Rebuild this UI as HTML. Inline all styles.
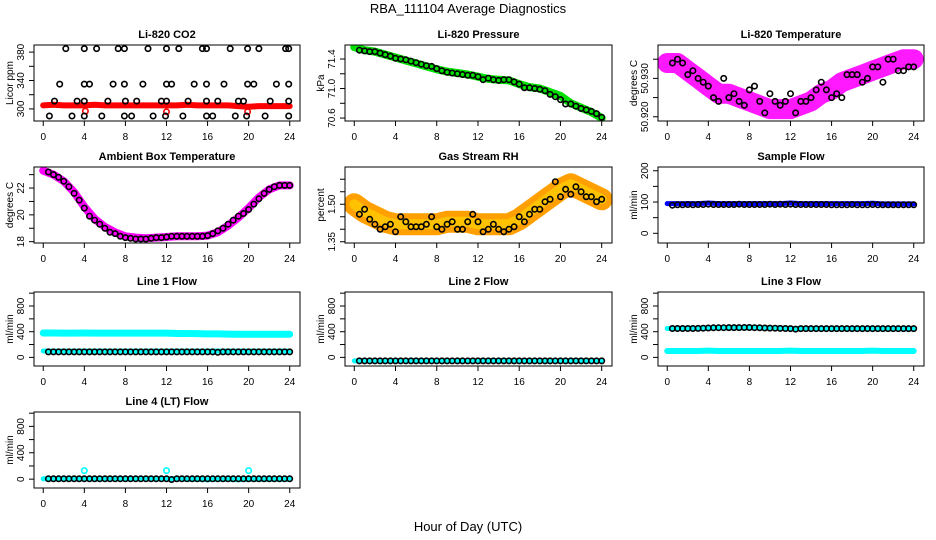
<!DOCTYPE html>
<html><head><meta charset="utf-8">
<style>
html,body{margin:0;padding:0;background:#fff;}
svg{display:block;font-family:"Liberation Sans",Arial,sans-serif;}
</style></head>
<body>
<svg id="chart" width="936" height="540" viewBox="0 0 936 540" xmlns="http://www.w3.org/2000/svg">
<text x="468" y="13" text-anchor="middle" font-size="13">RBA_111104  Average Diagnostics</text>
<text x="468" y="531" text-anchor="middle" font-size="13">Hour of Day (UTC)</text>
</svg>
<script>
// ---- shared hour arrays ----
const bandHours = [0,1,2,3,4,5,6,7,8,9,10,11,12,13,14,15,16,17,18,19,20,21,22,23,24];
const circleHours = [0.5,1,1.5,2,2.5,3,3.5,4,4.5,5,5.5,6,6.5,7,7.5,8,8.5,9,9.5,10,10.5,11,11.5,12,12.5,13,13.5,14,14.5,15,15.5,16,16.5,17,17.5,18,18.5,19,19.5,20,20.5,21,21.5,22,22.5,23,23.5,24];
const xTicks = [0,4,8,12,16,20,24];

// ---- CO2 ----
const co2Band = [305,306,305,305,305,306,305,305,305,305,305,305,305,305,306,305,305,305,305,304,303,304,304,304,304];
const co2CircleHours = [2.2,4,5.2,7.3,7.9,10.2,12,13.2,15.5,15.9,18.2,19.9,21,23.6,23.9,
 1.6,4,4.5,6.8,7.9,9.7,12,12.5,14.7,15.9,17.6,19.9,20.5,22.7,23.9,
 1.1,3.3,4,6.3,8,9.1,11.5,12,14.1,15.9,17,19,19.5,22.1,23.9,
 0.6,2.8,4,5.7,7.9,8.6,10.7,11.9,13.6,15.9,16.5,18.7,19.8,21.6,23.9];
const co2CircleVals = [385,385,385,385,385,385,385,385,385,385,385,385,385,385,385,
 335,335,335,335,335,335,335,335,335,335,335,335,335,335,335,
 311,311,311,311,311,311,311,311,311,311,311,311,311,311,311,
 290,290,290,290,290,290,290,290,290,290,290,290,290,290,290];
const co2OutlierHours = [4.1,12,19.9];
const co2OutlierVals = [297,296,296];

// ---- Pressure ----
const presBand = [71.56,71.52,71.50,71.46,71.42,71.38,71.34,71.30,71.26,71.23,71.21,71.19,71.16,71.13,71.12,71.11,71.06,71.02,71.00,70.95,70.90,70.80,70.74,70.68,70.60];
const presCircles = [71.52,71.51,71.50,71.50,71.48,71.46,71.44,71.41,71.40,71.39,71.37,71.35,71.33,71.31,71.30,71.27,71.24,71.22,71.21,71.20,71.19,71.18,71.18,71.16,71.12,71.14,71.12,71.11,71.12,71.12,71.09,71.06,71.01,71.01,71.00,70.99,70.97,70.92,70.89,70.85,70.79,70.79,70.76,70.73,70.71,70.69,70.66,70.61];

// ---- Li-820 temperature ----
const ltBand = [50.934,50.934,50.932,50.930,50.928,50.926,50.926,50.925,50.924,50.923,50.922,50.922,50.922,50.923,50.924,50.926,50.927,50.929,50.930,50.931,50.932,50.933,50.934,50.935,50.935];
const ltCircles = [50.934,50.935,50.934,50.931,50.932,50.930,50.929,50.928,50.925,50.924,50.930,50.925,50.926,50.924,50.923,50.927,50.928,50.924,50.921,50.926,50.924,50.923,50.924,50.926,50.921,50.924,50.924,50.925,50.927,50.929,50.927,50.925,50.926,50.925,50.931,50.931,50.931,50.929,50.930,50.933,50.933,50.929,50.935,50.935,50.932,50.932,50.933,50.933];

// ---- Ambient box temperature ----
const ambBand = [23.3,23.0,22.5,21.7,20.6,19.7,19.1,18.7,18.4,18.3,18.25,18.3,18.35,18.4,18.4,18.4,18.45,18.7,19.2,19.8,20.5,21.3,21.9,22.2,22.2];
const ambCircles = [23.2,23.0,22.8,22.5,22.1,21.6,21.1,20.5,19.9,19.6,19.3,19.0,18.7,18.6,18.4,18.3,18.25,18.2,18.2,18.2,18.25,18.3,18.3,18.35,18.4,18.4,18.4,18.4,18.4,18.4,18.4,18.45,18.6,18.8,19.0,19.3,19.6,19.9,20.1,20.4,20.8,21.2,21.6,21.9,22.1,22.2,22.2,22.2];

// ---- Gas stream RH ----
const rhBand = [1.50,1.47,1.45,1.43,1.42,1.42,1.42,1.42,1.42,1.43,1.43,1.43,1.42,1.42,1.42,1.42,1.44,1.47,1.50,1.53,1.56,1.58,1.56,1.54,1.52];
const rhCircles = [1.46,1.48,1.44,1.42,1.40,1.41,1.42,1.39,1.45,1.43,1.41,1.41,1.41,1.42,1.45,1.41,1.40,1.42,1.43,1.40,1.40,1.43,1.46,1.43,1.39,1.40,1.42,1.40,1.39,1.40,1.41,1.45,1.43,1.46,1.48,1.48,1.51,1.52,1.59,1.53,1.56,1.54,1.57,1.55,1.53,1.53,1.51,1.52];

// ---- Sample flow ----
const sfBand = [95,95,95,95,97,95,95,95,95,95,95,95,97,95,95,95,95,95,95,95,96,94,94,94,94];
const sfCircles = [90,91,91,92,91,92,92,93,92,92,92,92,92,93,92,92,92,92,92,93,92,93,92,93,92,92,92,92,92,92,92,91,91,91,91,92,91,91,91,92,91,91,91,91,91,91,91,91];

// ---- Line 1 flow ----
const l1BandHigh = [380,380,378,378,380,378,378,378,378,378,378,378,378,372,372,370,365,365,362,360,360,360,360,360,360];
const l1BandLow = [100,100,100,100,100,100,100,100,100,100,100,100,100,100,100,100,100,100,100,100,100,100,100,100,100];
const l1Circles = [85,85,85,85,85,85,85,85,85,85,85,85,85,85,85,85,85,85,85,85,85,85,85,85,85,85,85,85,85,85,85,85,85,80,85,85,85,85,85,85,85,85,85,85,85,85,85,85];

// ---- Line 2 flow ----
const l2Band = [-55,-55,-55,-55,-55,-55,-55,-55,-55,-55,-55,-55,-55,-55,-55,-55,-55,-55,-55,-55,-55,-55,-55,-55,-55];
const l2Circles = [-55,-55,-55,-55,-55,-55,-55,-55,-55,-55,-55,-55,-55,-55,-55,-55,-55,-55,-55,-55,-55,-55,-55,-55,-55,-55,-55,-55,-55,-55,-55,-55,-55,-55,-55,-55,-55,-55,-55,-55,-55,-55,-55,-55,-55,-55,-55,-55];

// ---- Line 3 flow ----
const l3BandHigh = [450,450,452,455,455,458,460,462,462,460,458,455,450,450,450,450,448,448,448,448,445,445,445,445,445];
const l3BandLow = [100,100,100,100,105,100,100,100,100,100,100,100,105,100,100,100,100,100,100,100,105,100,100,100,100];
const l3Circles = [450,450,450,450,450,452,455,458,460,462,462,464,464,464,465,466,462,460,458,456,454,452,450,448,440,448,448,448,448,448,448,448,448,448,448,448,448,448,448,448,448,448,448,448,448,448,448,448];

// ---- Line 4 flow ----
const l4Band = [5,5,5,5,5,5,5,5,5,5,5,5,5,5,0,0,-10,0,0,-10,0,0,0,0,0];
const l4Circles = [5,5,5,5,5,5,5,5,5,5,5,5,5,5,5,5,5,5,5,5,5,5,5,5,-5,5,5,5,5,5,5,5,5,5,5,5,5,5,5,5,5,5,5,5,5,5,5,5];
const l4OutlierHours = [4,12,20];
const l4OutlierVals = [130,130,130];

// ---- layout ----
const NS = 'http://www.w3.org/2000/svg';
const svg = document.getElementById('chart');
const COLS = [[34,300],[345,612],[658,924]];
const ROWS = [[45,121],[167,243],[292,366],[412,488]];
const XDOM = [-0.9, 25.0];

function mk(tag, attrs, parent){
  const e = document.createElementNS(NS, tag);
  for (const k in attrs) e.setAttribute(k, attrs[k]);
  (parent || svg).appendChild(e);
  return e;
}

function panel(opt){
  const [x0,x1] = COLS[opt.col], [y0,y1] = ROWS[opt.row];
  const g = mk('g', {});
  
  
  const sx = v => x0 + (v - XDOM[0]) / (XDOM[1]-XDOM[0]) * (x1-x0);
  const sy = v => y1 - (v - opt.ydom[0]) / (opt.ydom[1]-opt.ydom[0]) * (y1-y0);
  const clipId = 'clip-' + opt.name;
  const cp = mk('clipPath', {id: clipId}, g);
  mk('rect', {x:x0, y:y0, width:x1-x0, height:y1-y0}, cp);
  const data = mk('g', {'clip-path':'url(#'+clipId+')'}, g);

  (opt.bands || []).forEach(b => {
    const d = b.vals.map((v,i) => (i?'L':'M') + sx(b.hours[i]).toFixed(1) + ' ' + sy(v).toFixed(1)).join(' ');
    const p = mk('path', {d:d, fill:'none', stroke:b.color, 'stroke-width':b.width, 'stroke-linejoin':'round', 'stroke-linecap':'round', opacity: b.opacity || 1}, data);
    
    
  });
  (opt.points || []).forEach(s => {
    s.vals.forEach((v,i) => {
      const c = mk('circle', {cx:sx(s.hours[i]).toFixed(1), cy:sy(v).toFixed(1), r:s.r || 2.7, fill:'none', stroke:s.color, 'stroke-width':s.sw || 1.6}, data);
      
      
    });
  });

  const box = mk('rect', {x:x0, y:y0, width:x1-x0, height:y1-y0, fill:'none', stroke:'#000', 'stroke-width':1}, g);
  
  

  const t = mk('text', {x:(x0+x1)/2, y:y0-7, 'text-anchor':'middle', 'font-size':11, 'font-weight':'bold'}, g);
  t.textContent = opt.title;
  
  

  xTicks.forEach(v => {
    mk('line', {x1:sx(v), x2:sx(v), y1:y1, y2:y1+5, stroke:'#000'}, g);
    const tl = mk('text', {x:sx(v), y:y1+19, 'text-anchor':'middle', 'font-size':10}, g);
    tl.textContent = v;
    
    
  });
  opt.yticks.forEach(v => {
    mk('line', {x1:x0-5, x2:x0, y1:sy(v), y2:sy(v), stroke:'#000'}, g);
  });
  opt.ylabels.forEach((lab,i) => {
    const v = opt.ylabelVals[i];
    const yl = mk('text', {x:0, y:0, 'text-anchor':'middle', 'font-size':10, transform:'translate('+(x0-10)+','+sy(v)+') rotate(-90)'}, g);
    yl.textContent = lab;
    
    
  });
  const ya = mk('text', {x:0, y:0, 'text-anchor':'middle', 'font-size':10, transform:'translate('+(x0-21)+','+((y0+y1)/2)+') rotate(-90)'}, g);
  ya.textContent = opt.ytitle;
  
  
}

panel({name:'co2-panel', col:0, row:0, title:'Li-820 CO2', ytitle:'Licor ppm', ydom:[283,390],
  yticks:[300,320,340,360,380], ylabelVals:[300,340,380], ylabels:['300','340','380'],
  bands:[{name:'co2-band', hours:bandHours, vals:co2Band, color:'#ff0000', width:6}],
  points:[{name:'co2-outlier', hours:co2OutlierHours, vals:co2OutlierVals, color:'#ff0000'},
          {name:'co2-average', hours:co2CircleHours, vals:co2CircleVals, color:'#000'}]});

panel({name:'pressure-panel', col:1, row:0, title:'Li-820 Pressure', ytitle:'kPa', ydom:[70.56,71.59],
  yticks:[70.6,70.8,71.0,71.2,71.4], ylabelVals:[70.6,71.0,71.4], ylabels:['70.6','71.0','71.4'],
  bands:[{name:'pressure-band', hours:bandHours, vals:presBand, color:'#00e000', width:8}],
  points:[{name:'pressure-average', hours:circleHours, vals:presCircles, color:'#000'}]});

panel({name:'li820-temp-panel', col:2, row:0, title:'Li-820 Temperature', ytitle:'degrees C', ydom:[50.9189,50.9387],
  yticks:[50.920,50.925,50.930,50.935], ylabelVals:[50.920,50.930], ylabels:['50.920','50.930'],
  bands:[{name:'li820-temp-band', hours:bandHours, vals:ltBand, color:'#ff00ff', width:20, opacity:0.9}],
  points:[{name:'li820-temp-average', hours:circleHours, vals:ltCircles, color:'#000'}]});

panel({name:'ambient-temp-panel', col:0, row:1, title:'Ambient Box Temperature', ytitle:'degrees C', ydom:[17.9,23.57],
  yticks:[18,19,20,21,22,23], ylabelVals:[18,20,22], ylabels:['18','20','22'],
  bands:[{name:'ambient-temp-band', hours:bandHours, vals:ambBand, color:'#ff00ff', width:8}],
  points:[{name:'ambient-temp-average', hours:circleHours, vals:ambCircles, color:'#000'}]});

panel({name:'gas-rh-panel', col:1, row:1, title:'Gas Stream RH', ytitle:'percent', ydom:[1.345,1.649],
  yticks:[1.35,1.40,1.45,1.50,1.55,1.60], ylabelVals:[1.35,1.50], ylabels:['1.35','1.50'],
  bands:[{name:'gas-rh-band', hours:bandHours, vals:rhBand, color:'#ffa000', width:22},
         {name:'gas-rh-band-core', hours:bandHours, vals:rhBand, color:'#ffd000', width:10, opacity:0.7}],
  points:[{name:'gas-rh-average', hours:circleHours, vals:rhCircles, color:'#000'}]});

panel({name:'sample-flow-panel', col:2, row:1, title:'Sample Flow', ytitle:'ml/min', ydom:[-31,212],
  yticks:[0,50,100,150,200], ylabelVals:[0,100,200], ylabels:['0','100','200'],
  bands:[{name:'sample-flow-band', hours:bandHours, vals:sfBand, color:'#0000ff', width:5}],
  points:[{name:'sample-flow-average', hours:circleHours, vals:sfCircles, color:'#000'}]});

const flowTicks = [0,200,400,600,800,1000];
panel({name:'line1-flow-panel', col:0, row:2, title:'Line 1 Flow', ytitle:'ml/min', ydom:[-134,1018],
  yticks:flowTicks, ylabelVals:[0,400,800], ylabels:['0','400','800'],
  bands:[{name:'line1-high-band', hours:bandHours, vals:l1BandHigh, color:'#00ffff', width:7},
         {name:'line1-low-band', hours:bandHours, vals:l1BandLow, color:'#00ffff', width:5}],
  points:[{name:'line1-average', hours:circleHours, vals:l1Circles, color:'#000'}]});

panel({name:'line2-flow-panel', col:1, row:2, title:'Line 2 Flow', ytitle:'ml/min', ydom:[-134,1018],
  yticks:flowTicks, ylabelVals:[0,400,800], ylabels:['0','400','800'],
  bands:[{name:'line2-band', hours:bandHours, vals:l2Band, color:'#00ffff', width:5}],
  points:[{name:'line2-average', hours:circleHours, vals:l2Circles, color:'#000'}]});

panel({name:'line3-flow-panel', col:2, row:2, title:'Line 3 Flow', ytitle:'ml/min', ydom:[-134,1018],
  yticks:flowTicks, ylabelVals:[0,400,800], ylabels:['0','400','800'],
  bands:[{name:'line3-high-band', hours:bandHours, vals:l3BandHigh, color:'#00ffff', width:5},
         {name:'line3-low-band', hours:bandHours, vals:l3BandLow, color:'#00ffff', width:6}],
  points:[{name:'line3-average', hours:circleHours, vals:l3Circles, color:'#000'}]});

panel({name:'line4-flow-panel', col:0, row:3, title:'Line 4 (LT) Flow', ytitle:'ml/min', ydom:[-134,1018],
  yticks:flowTicks, ylabelVals:[0,400,800], ylabels:['0','400','800'],
  bands:[{name:'line4-band', hours:bandHours, vals:l4Band, color:'#00ffff', width:5}],
  points:[{name:'line4-outlier', hours:l4OutlierHours, vals:l4OutlierVals, color:'#00ffff'},
          {name:'line4-average', hours:circleHours, vals:l4Circles, color:'#000'}]});
</script>
</body></html>
